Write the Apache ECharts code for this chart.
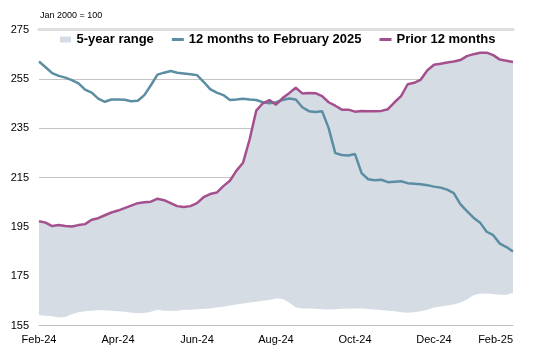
<!DOCTYPE html>
<html>
<head>
<meta charset="utf-8">
<script src="https://cdn.jsdelivr.net/npm/echarts@6/dist/echarts.min.js"></script>
<style>
  html, body { margin: 0; padding: 0; background: #fff; }
  #chart { width: 533px; height: 348px; }
</style>
</head>
<body>
<div id="chart"></div>
<script>
// Index levels (Jan 2000 = 100), sampled at 73 evenly spaced dates, Feb-24 to Feb-25
const tickLabels = ['Feb-24', 'Apr-24', 'Jun-24', 'Aug-24', 'Oct-24', 'Dec-24', 'Feb-25'];

const last12 = [
  262.0, 259.7, 257.3, 256.2, 255.5, 254.5, 253.2, 250.6, 249.4, 247.0,
  245.7, 246.6, 246.6, 246.5, 245.9, 246.1, 248.4, 252.4, 256.7, 257.5,
  258.2, 257.5, 257.2, 256.9, 256.5, 253.8, 250.8, 249.4, 248.4, 246.4,
  246.6, 246.9, 246.6, 246.4, 245.5, 245.1, 245.5, 246.4, 247.0, 246.6,
  243.5, 241.9, 241.6, 241.9, 235.0, 224.9, 224.1, 223.9, 224.5, 216.8,
  214.3, 213.9, 214.1, 213.1, 213.3, 213.5, 212.7, 212.5, 212.3, 211.9,
  211.3, 210.9, 210.1, 208.7, 204.2, 201.4, 198.7, 196.7, 193.0, 191.6,
  188.2, 186.8, 185.0
];

const prior12 = [
  197.3, 196.7, 195.3, 195.7, 195.3, 195.1, 195.7, 196.1, 197.9, 198.5,
  199.7, 200.8, 201.6, 202.6, 203.6, 204.6, 205.0, 205.2, 206.4, 205.8,
  204.6, 203.4, 203.0, 203.4, 204.6, 207.0, 208.3, 208.9, 211.5, 213.7,
  217.8, 221.0, 230.5, 242.1, 245.1, 246.4, 244.5, 247.2, 249.2, 251.4,
  249.1, 249.3, 249.2, 248.0, 245.5, 244.1, 242.5, 242.5, 241.7, 242.0,
  241.9, 241.9, 242.0, 242.7, 245.5, 248.0, 252.8, 253.4, 254.7, 258.5,
  260.7, 261.1, 261.6, 262.0, 262.6, 264.2, 265.0, 265.6, 265.6, 264.6,
  262.8, 262.3, 261.8
];

// 5-year range: lower bound; the upper bound is the prior-12-months path
const rangeLow = [
  159.2, 159.0, 158.7, 158.2, 158.4, 159.6, 160.4, 160.8, 161.0, 161.2,
  161.2, 161.0, 160.8, 160.6, 160.2, 160.0, 160.1, 160.6, 161.4, 161.0,
  161.0, 161.0, 161.4, 161.4, 161.6, 161.8, 161.9, 162.3, 162.6, 163.1,
  163.5, 163.9, 164.3, 164.6, 165.0, 165.3, 165.9, 165.7, 164.3, 162.3,
  161.9, 161.9, 161.8, 161.6, 161.5, 161.6, 161.8, 161.8, 161.9, 161.9,
  161.7, 161.5, 161.3, 161.0, 160.8, 160.4, 160.2, 160.4, 160.8, 161.4,
  162.3, 162.7, 163.1, 163.5, 164.3, 165.5, 167.3, 167.9, 168.0, 167.8,
  167.5, 167.5, 168.3
];
const rangeHigh = prior12;

const STEP = 12; // samples between labelled months
const categories = last12.map((_, i) => String(i));
const rangeSpan = rangeHigh.map((v, i) => +(v - rangeLow[i]).toFixed(2));

const FONT = 'Liberation Sans, Arial, sans-serif';
const LINE_ICON = 'path://M0,0H12V3H0Z';
const BOX_ICON = 'path://M0,0H11V6H0Z';

const chart = echarts.init(document.getElementById('chart'), null, { renderer: 'canvas' });

chart.setOption({
  animation: false,
  backgroundColor: '#fff',
  title: {
    text: 'Jan 2000 = 100',
    left: 40,
    top: 11,
    padding: 0,
    textStyle: { fontFamily: FONT, fontSize: 9, fontWeight: 'normal', color: '#000' }
  },
  legend: {
    left: 60,
    top: 33,
    padding: 0,
    itemWidth: 12,
    itemHeight: 6,
    itemGap: 18,
    symbolKeepAspect: true,
    textStyle: { fontFamily: FONT, fontSize: 13, fontWeight: 'bold', color: '#000' },
    data: [
      { name: '5-year range', icon: BOX_ICON },
      { name: '12 months to February 2025', icon: LINE_ICON },
      { name: 'Prior 12 months', icon: LINE_ICON }
    ]
  },
  grid: { left: 39, right: 20, top: 29.5, bottom: 22.5 },
  xAxis: [
    {
      type: 'category',
      boundaryGap: false,
      data: categories,
      axisLine: { lineStyle: { color: '#bfbfbf', width: 1 } },
      axisTick: { show: false },
      axisLabel: {
        interval: (i) => i % STEP === 0,
        formatter: (v, i) => (i % STEP === 0 ? tickLabels[i / STEP] : ''),
        fontFamily: FONT,
        fontSize: 11,
        color: '#000',
        margin: 9,
        alignMaxLabel: 'right'
      },
      splitLine: { show: false }
    },
    {
      type: 'category',
      position: 'top',
      boundaryGap: false,
      data: categories,
      axisLine: { lineStyle: { color: '#dedede', width: 3 } },
      axisTick: { show: false },
      axisLabel: { show: false },
      splitLine: { show: false }
    }
  ],
  yAxis: {
    type: 'value',
    min: 155,
    max: 275,
    interval: 20,
    axisLine: { show: false },
    axisTick: { show: false },
    axisLabel: { fontFamily: FONT, fontSize: 11, color: '#000', margin: 10 },
    splitLine: { lineStyle: { color: '#c4c4c4', width: 1 } }
  },
  series: [
    {
      name: 'range-low',
      type: 'line',
      stack: 'band',
      data: rangeLow,
      symbol: 'none',
      silent: true,
      lineStyle: { width: 0, opacity: 0 },
      z: 1
    },
    {
      name: '5-year range',
      type: 'line',
      stack: 'band',
      data: rangeSpan,
      symbol: 'none',
      silent: true,
      color: '#d6dce4',
      lineStyle: { width: 0, opacity: 0 },
      areaStyle: { color: '#d6dce4', opacity: 1 },
      z: 1
    },
    {
      name: '12 months to February 2025',
      type: 'line',
      data: last12,
      symbol: 'none',
      color: '#5b8ea3',
      lineStyle: { color: '#5b8ea3', width: 2.5 },
      z: 3
    },
    {
      name: 'Prior 12 months',
      type: 'line',
      data: prior12,
      symbol: 'none',
      color: '#a4508e',
      lineStyle: { color: '#a4508e', width: 2.5 },
      z: 4
    }
  ]
});
</script>
</body>
</html>
